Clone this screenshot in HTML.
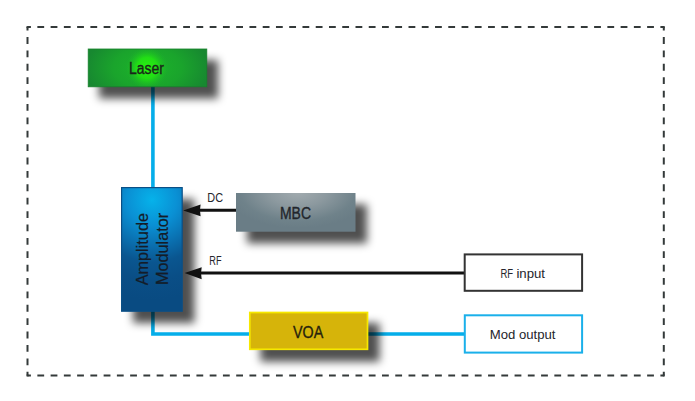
<!DOCTYPE html>
<html><head><meta charset="utf-8">
<style>
html,body{margin:0;padding:0;background:#fff;width:695px;height:401px;overflow:hidden}
svg{display:block}
text{font-family:"Liberation Sans",sans-serif}
</style></head><body>
<svg width="695" height="401" viewBox="0 0 695 401">
<defs>
  <filter id="sh" x="-30%" y="-30%" width="160%" height="160%">
    <feGaussianBlur stdDeviation="4.2"/>
  </filter>
  <radialGradient id="gLaser" gradientUnits="userSpaceOnUse" cx="147.5" cy="68" r="62" gradientTransform="translate(147.5 68) scale(1 0.6) translate(-147.5 -68)">
    <stop offset="0" stop-color="#1cb42a"/>
    <stop offset="0.55" stop-color="#1aa42c"/>
    <stop offset="1" stop-color="#178830"/>
  </radialGradient>
  <radialGradient id="gLaserSpot" gradientUnits="userSpaceOnUse" cx="147" cy="68" r="21">
    <stop offset="0" stop-color="#28f210" stop-opacity="1"/>
    <stop offset="0.5" stop-color="#22e014" stop-opacity="0.95"/>
    <stop offset="1" stop-color="#1cb42a" stop-opacity="0"/>
  </radialGradient>
  <radialGradient id="gAmp" gradientUnits="userSpaceOnUse" cx="152" cy="200" r="100">
    <stop offset="0" stop-color="#06b2ea"/>
    <stop offset="0.25" stop-color="#0a90d4"/>
    <stop offset="0.45" stop-color="#0a70b0"/>
    <stop offset="0.62" stop-color="#0a5690"/>
    <stop offset="0.8" stop-color="#0a4e86"/>
    <stop offset="1" stop-color="#094b82"/>
  </radialGradient>
  <radialGradient id="gMbc" gradientUnits="userSpaceOnUse" cx="298" cy="192" r="72" gradientTransform="translate(298 192) scale(1 0.5) translate(-298 -192)">
    <stop offset="0" stop-color="#a2abaf"/>
    <stop offset="0.4" stop-color="#8c999f"/>
    <stop offset="0.8" stop-color="#6f828a"/>
    <stop offset="1" stop-color="#6a7d86"/>
  </radialGradient>
</defs>

<!-- dashed frame -->
<g stroke="#343a3a" stroke-width="2" fill="none">
  <path d="M27.5 27.1 H663.8" stroke-dasharray="6.8 6.456" stroke-dashoffset="3.4"/>
  <path d="M27.5 375.5 H663.8" stroke-dasharray="6.8 6.456" stroke-dashoffset="3.4"/>
  <path d="M27.5 27.1 V375.5" stroke-dasharray="6.8 6.588" stroke-dashoffset="3.4"/>
  <path d="M663.8 27.1 V375.5" stroke-dasharray="6.8 6.588" stroke-dashoffset="3.4"/>
</g>
<g fill="#343a3a">
  <rect x="26.5" y="26.1" width="2" height="2"/><rect x="662.8" y="26.1" width="2" height="2"/>
  <rect x="26.5" y="374.5" width="2" height="2"/><rect x="662.8" y="374.5" width="2" height="2"/>
</g>

<!-- connector lines -->
<g fill="none" stroke-linecap="butt">
  <path d="M152.9 86 V188" stroke="#05aeea" stroke-width="3.6"/>
  <path d="M152.9 310 V334 H465" stroke="#05aeea" stroke-width="3.6"/>
</g>

<!-- shadows -->
<g fill="#080706" fill-opacity="0.69" filter="url(#sh)">
  <rect x="99" y="60" width="119.1" height="38.5"/>
  <rect x="133" y="199" width="61.5" height="124"/>
  <rect x="247" y="204.3" width="120" height="39"/>
  <rect x="260.3" y="323" width="119.3" height="38.7"/>
</g>

<!-- black arrows -->
<g fill="none"><path d="M236 210.3 H198" stroke="#111" stroke-width="3"/>
<path d="M465 273 H199" stroke="#111" stroke-width="3"/></g>
<path d="M183.2 210.4 L200.6 204.6 Q199.2 210.4 200.6 216.3 Z" fill="#111"/>
<path d="M184.6 273.1 L201.7 267.3 Q200.3 273.1 201.7 279.3 Z" fill="#111"/>

<!-- boxes -->
<rect x="88.2" y="49" width="118.6" height="37.8" fill="url(#gLaser)" stroke="#17802c" stroke-width="0.8"/>
<rect x="88.5" y="49.2" width="118.1" height="37.2" fill="url(#gLaserSpot)"/>
<rect x="121.6" y="187.6" width="60.6" height="123.6" fill="url(#gAmp)" stroke="#0a4f86" stroke-width="1.2"/>
<rect x="236" y="193" width="119.5" height="38.7" fill="url(#gMbc)"/>
<rect x="249.8" y="312.5" width="117.7" height="36.8" fill="#d6b40a" stroke="#f6e800" stroke-width="1.7"/>
<rect x="464.7" y="254.4" width="117.4" height="36.4" fill="#fff" stroke="#333" stroke-width="2"/>
<rect x="464.8" y="315.3" width="117.3" height="37.3" fill="#fff" stroke="#1ab0ea" stroke-width="2"/>

<!-- text -->
<g fill="#1a241a" stroke="#1a241a" stroke-width="0.35">
  <text x="129" y="73.9" font-size="15.8" textLength="35" lengthAdjust="spacingAndGlyphs">Laser</text>
</g>
<g fill="#22252b" stroke="#22252b" stroke-width="0.35">
  <text x="280" y="218.5" font-size="16.5" textLength="31" lengthAdjust="spacingAndGlyphs">MBC</text>
</g>
<g fill="#26220c" stroke="#26220c" stroke-width="0.35">
  <text x="293" y="337.9" font-size="16.8" textLength="30.2" lengthAdjust="spacingAndGlyphs">VOA</text>
</g>
<g fill="#141c28" stroke="#141c28" stroke-width="0.2">
  <text transform="translate(147.9 285.3) rotate(-90)" x="0" y="0" font-size="17" textLength="72.3" lengthAdjust="spacingAndGlyphs">Amplitude</text>
  <text transform="translate(167.9 285.1) rotate(-90)" x="0" y="0" font-size="17" textLength="72.3" lengthAdjust="spacingAndGlyphs">Modulator</text>
</g>
<g fill="#25252c">
  <text x="207.3" y="201.6" font-size="13.6" textLength="15.7" lengthAdjust="spacingAndGlyphs">DC</text>
  <text x="209.3" y="265.1" font-size="13.4" textLength="12.2" lengthAdjust="spacingAndGlyphs">RF</text>
  <text x="500.5" y="277.8" font-size="13.2" textLength="12.7" lengthAdjust="spacingAndGlyphs">RF</text>
  <text x="516.4" y="277.8" font-size="13.2" textLength="28.6" lengthAdjust="spacingAndGlyphs">input</text>
  <text x="489.7" y="338.8" font-size="13.2" textLength="65.7" lengthAdjust="spacingAndGlyphs">Mod output</text>
</g>
</svg>
</body></html>
